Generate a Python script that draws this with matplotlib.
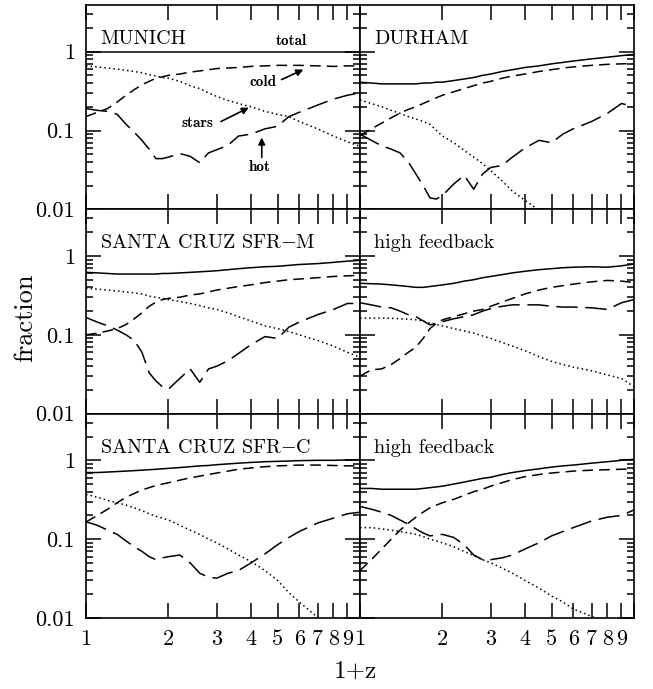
import numpy as np
import matplotlib
matplotlib.use("Agg")
import matplotlib.pyplot as plt
from matplotlib.ticker import FixedLocator, FixedFormatter, NullFormatter

plt.rcParams['font.family'] = 'cmr10'
plt.rcParams['mathtext.fontset'] = 'cm'
plt.rcParams['axes.unicode_minus'] = False

# shared 1+z grid
opz = [1.0, 1.1, 1.2, 1.3, 1.4, 1.5, 1.6, 1.7, 1.8, 1.9, 2.0, 2.2, 2.4, 2.6,
       2.8, 3.0, 3.3, 3.6, 4.0, 4.5, 5.0, 5.5, 6.0, 7.0, 8.0, 9.0, 10.0]
nan = np.nan

# MUNICH
munich_total = [1.0] * 27
munich_cold = [.15, .17, .19, .23, .28, .33, .38, .42, .46, .48, .50, .52, .55, .57,
               .59, .61, .62, .63, .65, .66, .67, .67, .67, .66, .65, .66, .66]
munich_hot = [.19, .18, .175, .16, .12, .095, .075, .058, .044, .044, .046, .051, .047, .039,
              .052, .057, .065, .085, .09, .105, .113, .15, .17, .21, .25, .28, .30]
munich_stars = [.66, .64, .62, .60, .58, .56, .54, .51, .49, .47, .46, .42, .37, .34,
                .30, .27, .24, .22, .20, .175, .16, .15, .13, .105, .085, .072, .063]

# DURHAM
durham_total = [.41, .40, .39, .39, .39, .39, .39, .40, .40, .41, .41, .43, .45, .47,
                .50, .52, .56, .59, .63, .66, .70, .73, .76, .81, .85, .89, .92]
durham_cold = [.086, .105, .124, .145, .166, .185, .20, .22, .24, .26, .28, .31, .34, .37,
               .40, .42, .46, .49, .52, .56, .59, .62, .64, .67, .69, .70, .71]
durham_hot = [.09, .075, .064, .058, .052, .04, .028, .02, .014, .0135, .015, .021, .027, .018,
              .028, .034, .036, .046, .06, .075, .07, .09, .105, .13, .165, .22, .20]
durham_stars = [.245, .22, .20, .18, .165, .15, .14, .13, .12, .10, .085, .07, .056, .046,
                .038, .031, .023, .017, .013, .0098, nan, nan, nan, nan, nan, nan, nan]

# SANTA CRUZ SFR-M
sfrm_total = [.62, .61, .60, .59, .59, .59, .59, .59, .59, .60, .60, .61, .62, .63,
              .64, .65, .67, .69, .71, .73, .74, .76, .78, .80, .83, .86, .88]
sfrm_cold = [.10, .105, .112, .12, .135, .16, .19, .23, .26, .28, .29, .30, .32, .33,
             .35, .37, .39, .41, .43, .46, .48, .50, .51, .53, .55, .56, .57]
sfrm_hot = [.166, .145, .13, .115, .10, .085, .06, .033, .026, .022, .0205, .028, .037, .025,
            .037, .04, .047, .058, .075, .095, .09, .125, .145, .18, .21, .25, .25]
sfrm_stars = [.39, .38, .37, .36, .35, .34, .33, .31, .30, .29, .28, .265, .25, .235,
              .22, .21, .19, .17, .15, .13, .12, .11, .10, .085, .072, .06, .052]

# high feedback (SFR-M)
hf1_total = [.45, .445, .44, .43, .42, .41, .40, .40, .41, .42, .43, .45, .48, .50,
             .53, .55, .58, .61, .64, .67, .69, .71, .72, .73, .72, .75, .79]
hf1_cold = [.03, .036, .037, .042, .05, .06, .07, .09, .12, .14, .155, .17, .185, .20,
            .21, .23, .26, .29, .33, .37, .40, .42, .44, .47, .49, .48, .46]
hf1_hot = [.255, .24, .225, .22, .20, .18, .17, .15, .134, .14, .147, .16, .17, .18,
           .20, .215, .23, .24, .24, .24, .23, .225, .225, .22, .21, .255, .28]
hf1_stars = [.163, .163, .163, .162, .16, .158, .155, .15, .14, .135, .13, .12, .112, .105,
             .097, .09, .08, .072, .063, .053, .046, .042, .039, .035, .031, .028, .022]

# SANTA CRUZ SFR-C
sfrc_total = [.70, .70, .71, .72, .73, .74, .75, .76, .77, .78, .79, .81, .83, .85,
              .86, .88, .90, .92, .94, .96, .97, .98, .99, 1.0, 1.0, 1.01, 1.02]
sfrc_cold = [.165, .20, .24, .29, .34, .38, .42, .45, .48, .50, .52, .56, .60, .63,
             .66, .69, .73, .77, .80, .83, .85, .86, .87, .87, .86, .85, .85]
sfrc_hot = [.166, .15, .13, .115, .095, .08, .07, .06, .055, .058, .06, .063, .05, .037,
            .033, .032, .037, .04, .05, .065, .085, .105, .125, .16, .185, .21, .22]
sfrc_stars = [.37, .34, .31, .29, .27, .25, .23, .21, .195, .185, .175, .15, .13, .115,
              .10, .09, .075, .063, .052, .04, .03, .021, .016, .0102, .0075, nan, nan]

# high feedback (SFR-C)
hf2_total = [.44, .44, .43, .43, .43, .43, .43, .44, .45, .46, .47, .50, .53, .56,
             .59, .61, .66, .70, .74, .78, .82, .85, .87, .92, .96, 1.0, 1.03]
hf2_cold = [.04, .055, .075, .10, .13, .16, .19, .22, .25, .27, .29, .32, .36, .40,
            .43, .47, .52, .57, .62, .66, .69, .71, .73, .75, .76, .77, .78]
hf2_hot = [.26, .24, .22, .20, .175, .155, .135, .12, .11, .113, .115, .105, .085, .063,
           .055, .055, .058, .063, .075, .09, .11, .125, .14, .17, .19, .20, .235]
hf2_stars = [.14, .14, .135, .13, .125, .12, .115, .108, .10, .095, .09, .08, .07, .062,
             .055, .05, .043, .037, .03, .024, .019, .016, .013, .0105, .0085, nan, nan]

panel_names = ["MUNICH", "DURHAM", "SANTA CRUZ SFR$-$M", "high feedback",
               "SANTA CRUZ SFR$-$C", "high feedback"]
panel_data = [
    (munich_total, munich_cold, munich_hot, munich_stars),
    (durham_total, durham_cold, durham_hot, durham_stars),
    (sfrm_total, sfrm_cold, sfrm_hot, sfrm_stars),
    (hf1_total, hf1_cold, hf1_hot, hf1_stars),
    (sfrc_total, sfrc_cold, sfrc_hot, sfrc_stars),
    (hf2_total, hf2_cold, hf2_hot, hf2_stars),
]

fig, axes = plt.subplots(3, 2, figsize=(6.53, 6.89), dpi=100)
fig.subplots_adjust(left=0.1317, right=0.9709, bottom=0.1030, top=0.9927,
                    hspace=0, wspace=0)

yminor = [m * 10.0 ** e for e in (-2, -1, 0) for m in range(2, 10)]

for i, ax in enumerate(axes.flat):
    total, cold, hot, stars = panel_data[i]
    ax.plot(opz, total, color='k', lw=1.1)
    ax.plot(opz, cold, color='k', lw=1.1, dashes=(7, 4))
    ax.plot(opz, hot, color='k', lw=1.1, dashes=(14, 5))
    ax.plot(opz, stars, color='k', lw=1.1, dashes=(1, 2.0))
    ax.set_xscale('log')
    ax.set_yscale('log')
    ax.set_xlim(1, 10)
    ax.set_ylim(0.01, 3.9)
    ax.xaxis.set_major_locator(FixedLocator(list(range(1, 11))))
    ax.xaxis.set_minor_locator(FixedLocator([]))
    ax.yaxis.set_major_locator(FixedLocator([0.01, 0.1, 1]))
    ax.yaxis.set_minor_locator(FixedLocator(yminor))
    ax.xaxis.set_minor_formatter(NullFormatter())
    ax.yaxis.set_minor_formatter(NullFormatter())
    ax.tick_params(which='both', direction='in', top=True, right=True,
                   width=1.1, labelsize=16, pad=8)
    ax.tick_params(which='major', length=10.5)
    ax.tick_params(which='minor', length=5)
    if i >= 4:
        ax.xaxis.set_major_formatter(FixedFormatter([str(k) for k in range(1, 10)] + ['']))
    else:
        ax.xaxis.set_major_formatter(NullFormatter())
    if i % 2 == 0:
        ax.yaxis.set_major_formatter(FixedFormatter(['0.01', '0.1', '1']))
    else:
        ax.yaxis.set_major_formatter(NullFormatter())
    for s in ax.spines.values():
        s.set_linewidth(1.2)
    ax.text(0.052, 0.81, panel_names[i], transform=ax.transAxes,
            fontsize=14.5, ha='left', va='baseline')

# labels and arrows in the MUNICH panel
ax0 = axes[0, 0]
lab = dict(fontsize=11, family='cmb10', ha='center', va='center')
ax0.text(5.6, 1.35, "total", **lab)
ax0.text(4.41, 0.417, "cold", **lab)
ax0.text(2.55, 0.123, "stars", **lab)
ax0.text(4.31, 0.034, "hot", **lab)
arrow = dict(arrowstyle='-|>', color='k', lw=1.2, mutation_scale=10, shrinkA=0, shrinkB=0)
ax0.annotate("", xy=(6.21, 0.592), xytext=(5.17, 0.442), arrowprops=arrow)
ax0.annotate("", xy=(3.93, 0.195), xytext=(3.11, 0.13), arrowprops=arrow)
ax0.annotate("", xy=(4.38, 0.0815), xytext=(4.38, 0.0455), arrowprops=arrow)

fig.text(25 / 653, 1 - 318 / 689, "fraction", rotation=90, fontsize=19,
         ha='center', va='center')
fig.text(355 / 653, 1 - 672 / 689, "1+z", fontsize=18, ha='center', va='center')

fig.savefig("out.png", dpi=100)
